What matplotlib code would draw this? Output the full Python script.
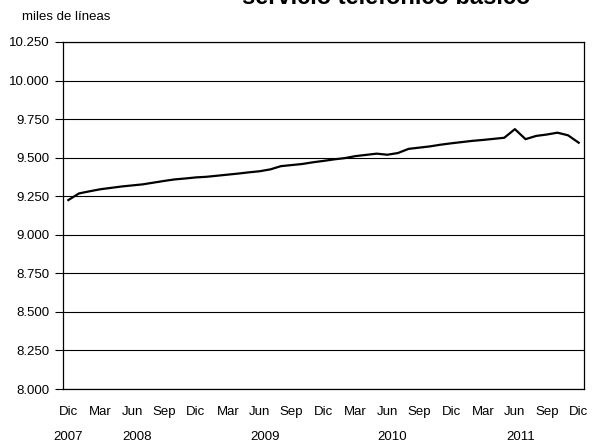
import matplotlib
matplotlib.use("Agg")
import matplotlib.pyplot as plt
from matplotlib.ticker import FuncFormatter, MultipleLocator

plt.rcParams['font.family'] = ['Liberation Sans', 'DejaVu Sans']

# monthly values, Dic 2007 .. Dic 2011 (miles de líneas)
values = [9225, 9268, 9282, 9295, 9304, 9313, 9320, 9327, 9338, 9349, 9359, 9365,
          9372, 9376, 9383, 9390, 9397, 9405, 9412, 9424, 9445, 9452, 9459, 9470,
          9479, 9489, 9497, 9510, 9518, 9526, 9519, 9530, 9557, 9565, 9573, 9584,
          9593, 9601, 9609, 9615, 9622, 9629, 9685, 9620, 9641, 9650, 9662, 9645,
          9597]
month_labels = ["Dic", "Mar", "Jun", "Sep"] * 4 + ["Dic"]
year_labels = ["2007", "2008", "2009", "2010", "2011"]
year_pos = [0, 6.5, 18.5, 30.5, 42.5]
title = "servicio telefónico básico"
ylabel = "miles de líneas"

fig = plt.figure(figsize=(5.93, 4.47), dpi=100)
ax = fig.add_axes([63 / 593, 58 / 447, 521 / 593, 347 / 447])

x = list(range(len(values)))
ax.plot(x, values, color='black', lw=1.6, solid_joinstyle='round')

ax.set_xlim(-0.5, len(values) - 0.5)
ax.set_ylim(8000, 10250)
ax.yaxis.set_major_locator(MultipleLocator(250))
ax.yaxis.set_major_formatter(FuncFormatter(lambda v, p: f"{int(v):,}".replace(",", ".")))
ax.grid(axis='y', color='black', lw=0.8)
ax.set_axisbelow(True)

ax.set_xticks(list(range(0, len(values), 3)))
ax.set_xticklabels(month_labels)
ax.tick_params(axis='x', length=0, pad=12, labelsize=9.5)
ax.tick_params(axis='y', length=6, width=0.8, pad=4, labelsize=9.5)
for s in ax.spines.values():
    s.set_linewidth(0.9)
    s.set_color('black')

for lab, pos in zip(year_labels, year_pos):
    ax.annotate(lab, xy=(pos, 0), xycoords=('data', 'axes fraction'),
                xytext=(0, -48), textcoords='offset pixels',
                ha='center', va='center', fontsize=9.5)

fig.text(22 / 593, 1 - 17 / 447, ylabel, ha='left', va='center', fontsize=9.5)
fig.text(386 / 593, 1 - 4 / 447, title, ha='center', va='baseline',
         fontsize=17, fontweight='bold')

fig.savefig("out.png", dpi=100)
